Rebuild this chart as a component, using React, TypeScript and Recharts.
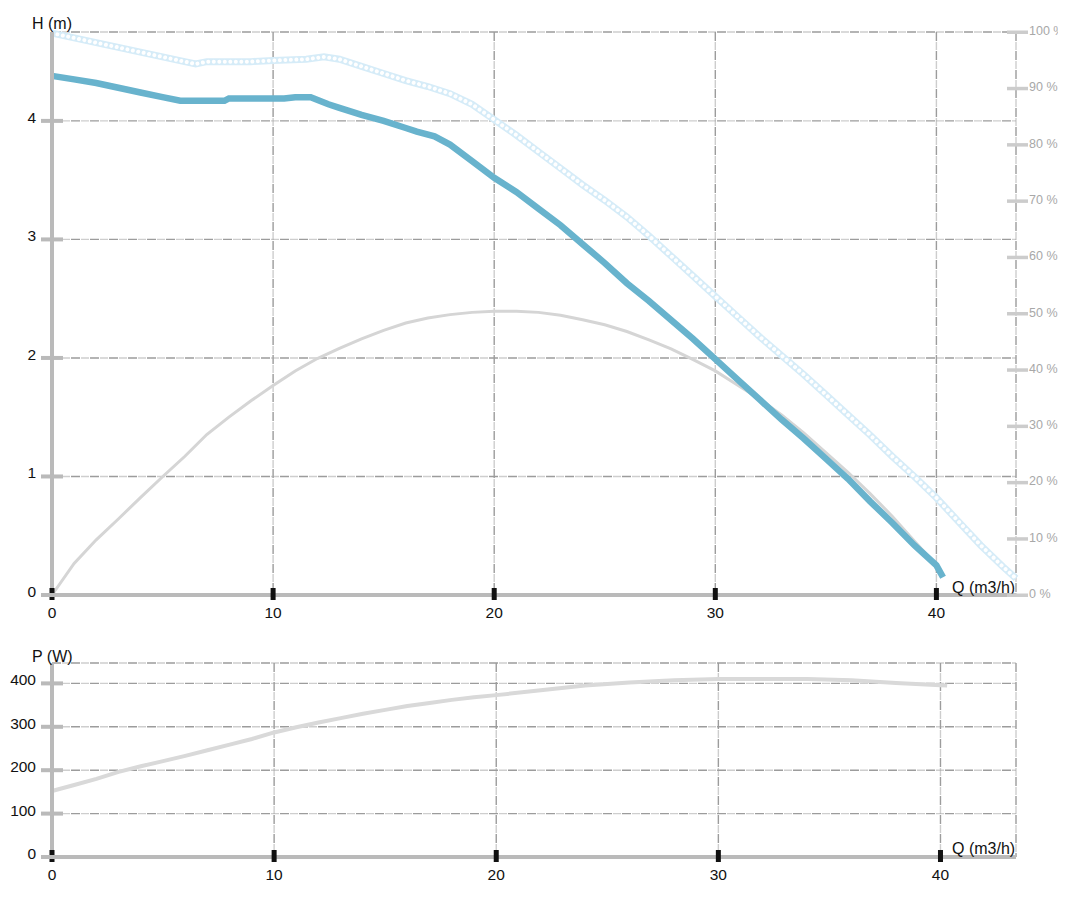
import { LineChart, Line, XAxis, YAxis, CartesianGrid } from 'recharts';

// Q (m3/h) ticks and axis ticks
const qTicks = [0, 10, 20, 30, 40];
const hTicks = [0, 1, 2, 3, 4];
const effTicks = [0, 10, 20, 30, 40, 50, 60, 70, 80, 90, 100];
const pTicks = [0, 100, 200, 300, 400];

// pump curve H(Q)
const pumpQ = [0, 1, 2, 3, 4, 5, 5.8, 7, 7.8, 8, 10, 10.5, 11, 11.7, 12.5, 13, 14, 15, 16, 16.5, 17.3, 18, 19, 20, 21, 22, 23, 24, 25, 26, 27, 28, 29, 30, 31, 32, 33, 34, 35, 36, 37, 38, 39, 40, 40.3];
const pumpH = [4.38, 4.35, 4.32, 4.28, 4.24, 4.2, 4.17, 4.17, 4.17, 4.19, 4.19, 4.19, 4.2, 4.2, 4.14, 4.11, 4.05, 4.0, 3.94, 3.91, 3.87, 3.8, 3.66, 3.52, 3.4, 3.26, 3.12, 2.96, 2.8, 2.63, 2.48, 2.32, 2.16, 1.99, 1.82, 1.65, 1.48, 1.32, 1.15, 0.98, 0.79, 0.61, 0.42, 0.25, 0.15];

// max curve H(Q) (dotted)
const maxQ = [0, 1, 2, 3, 4, 5, 6, 6.5, 7, 9, 10, 11.5, 12.3, 13, 14, 15, 16, 17, 18, 19, 20, 21, 22, 23, 24, 25, 26, 27, 28, 29, 30, 31, 32, 33, 34, 35, 36, 37, 38, 39, 40, 41, 42, 43, 43.6];
const maxH = [4.74, 4.7, 4.66, 4.62, 4.58, 4.54, 4.5, 4.48, 4.5, 4.5, 4.51, 4.52, 4.54, 4.52, 4.46, 4.4, 4.34, 4.29, 4.23, 4.14, 4.01, 3.88, 3.74, 3.6, 3.46, 3.33, 3.19, 3.03, 2.86, 2.69, 2.52, 2.35, 2.18, 2.02, 1.86, 1.69, 1.52, 1.35, 1.17, 1.0, 0.82, 0.62, 0.42, 0.24, 0.14];

// efficiency (%)
const effQ = [0, 1, 2, 3, 4, 5, 6, 7, 8, 9, 10, 11, 12, 13, 14, 15, 16, 17, 18, 19, 20, 21, 22, 23, 24, 25, 26, 27, 28, 29, 30, 31, 32, 33, 34, 35, 36, 37, 38, 39, 40];
const effPct = [0, 5.6, 9.8, 13.5, 17.3, 21, 24.6, 28.5, 31.6, 34.5, 37.2, 39.8, 42, 43.8, 45.5, 47, 48.3, 49.2, 49.8, 50.2, 50.4, 50.4, 50.2, 49.7, 48.9, 48, 46.8, 45.3, 43.7, 41.8, 39.8, 37.3, 34.8, 32, 28.8, 25.3, 21.8, 18, 14, 9.6, 5.3];

// power P(Q) (W)
const powerQ = [0, 1, 2, 3, 4, 5, 6, 7, 8, 9, 10, 11, 12, 13, 14, 15, 16, 17, 18, 19, 20, 22, 24, 26, 28, 30, 32, 34, 36, 38, 40, 40.3];
const powerW = [152, 166, 180, 196, 209, 221, 233, 246, 259, 272, 287, 299, 310, 320, 330, 339, 348, 355, 362, 368, 373, 384, 395, 402, 407, 410, 410, 410, 407, 401, 396, 395];

const zip = (xs: number[], ys: number[], key: string) => xs.map((q, i) => ({ q, [key]: ys[i] }));

const pumpData = zip(pumpQ, pumpH, 'h');
const maxData = zip(maxQ, maxH, 'h');
const effData = zip(effQ, effPct, 'eff');
const powerData = zip(powerQ, powerW, 'p');

const FONT = '"Liberation Sans", Arial, sans-serif';
const GRID_DASH = '9 1.5 1 1 1 1 1 1 1 1.5';
const AXIS_GRAY = '#bababa';

const XTick = (props: any) => {
  const { x, y, payload } = props;
  return (
    <g>
      <rect x={x - 2.5} y={y - 7} width={5} height={12} fill="#111" />
      <text x={x} y={y + 23} textAnchor="middle" fontSize={15.5} fontFamily={FONT} fill="#111">
        {payload.value}
      </text>
    </g>
  );
};

const LeftTick = (props: any) => {
  const { x, y, payload } = props;
  return (
    <g>
      <rect x={x - 11} y={y - 2} width={22} height={4} fill={AXIS_GRAY} />
      <text x={x - 16} y={y + 2} textAnchor="end" fontSize={15.5} fontFamily={FONT} fill="#111">
        {payload.value}
      </text>
    </g>
  );
};

const RightTick = (props: any) => {
  const { x, y, payload } = props;
  return (
    <g>
      <rect x={x - 9} y={y - 1.5} width={21} height={3.5} fill="#cccccc" />
      <text x={x + 13} y={y + 3} textAnchor="start" fontSize={12.5} fontFamily={FONT} fill="#a8a8a8">
        {payload.value} %
      </text>
    </g>
  );
};

const yTitle = (txt: string, dy: number) => (props: any) => {
  const vb = props.viewBox || {};
  return (
    <text x={(vb.x || 0) + 24} y={(vb.y || 0) + dy} fontSize={16} fontFamily={FONT} fill="#111">
      {txt}
    </text>
  );
};

const qTitle = (dy: number) => (props: any) => {
  const vb = props.viewBox || {};
  return (
    <text x={(vb.x || 0) + 900} y={(vb.y || 0) + dy} fontSize={16} fontFamily={FONT} fill="#111">
      Q (m3/h)
    </text>
  );
};

export default function App() {
  return (
    <div style={{ width: 1050 }}>
      <LineChart width={1050} height={620} margin={{ top: 24, right: 0, bottom: 0, left: 0 }}>
        <CartesianGrid yAxisId="h" stroke="#9c9c9c" strokeWidth={1.4} strokeDasharray={GRID_DASH} />
        <XAxis
          dataKey="q"
          type="number"
          domain={[0, 43.4]}
          ticks={qTicks}
          allowDuplicatedCategory={false}
          height={33}
          tickSize={0}
          tickMargin={0}
          tickLine={false}
          axisLine={{ stroke: AXIS_GRAY, strokeWidth: 4 }}
          tick={<XTick />}
          label={qTitle(-2)}
        />
        <YAxis
          yAxisId="h"
          type="number"
          domain={[0, 4.75]}
          ticks={hTicks}
          width={44}
          tickSize={0}
          tickMargin={0}
          tickLine={false}
          axisLine={{ stroke: AXIS_GRAY, strokeWidth: 4 }}
          tick={<LeftTick />}
          label={yTitle('H (m)', -3)}
        />
        <YAxis
          yAxisId="eff"
          orientation="right"
          type="number"
          domain={[0, 100]}
          ticks={effTicks}
          width={42}
          tickSize={0}
          tickMargin={0}
          tickLine={false}
          axisLine={false}
          tick={<RightTick />}
        />
        <Line yAxisId="h" data={maxData} dataKey="h" type="linear" stroke="#d6ecf8" strokeWidth={7} dot={false} activeDot={false} isAnimationActive={false} />
        <Line yAxisId="h" data={maxData} dataKey="h" type="linear" stroke="#ffffff" strokeWidth={4} strokeDasharray="0.01 5.5" strokeLinecap="round" dot={false} activeDot={false} isAnimationActive={false} />
        <Line yAxisId="eff" data={effData} dataKey="eff" type="linear" stroke="#d5d5d5" strokeWidth={3} dot={false} activeDot={false} isAnimationActive={false} />
        <Line yAxisId="h" data={pumpData} dataKey="h" type="linear" stroke="#68b3cd" strokeWidth={6.5} dot={false} activeDot={false} isAnimationActive={false} />
      </LineChart>
      <LineChart width={1050} height={262} margin={{ top: 35, right: 42, bottom: 0, left: 0 }}>
        <CartesianGrid stroke="#9c9c9c" strokeWidth={1.4} strokeDasharray={GRID_DASH} />
        <XAxis
          dataKey="q"
          type="number"
          domain={[0, 43.4]}
          ticks={qTicks}
          allowDuplicatedCategory={false}
          height={33}
          tickSize={0}
          tickMargin={0}
          tickLine={false}
          axisLine={{ stroke: AXIS_GRAY, strokeWidth: 4 }}
          tick={<XTick />}
          label={qTitle(-3)}
        />
        <YAxis
          type="number"
          domain={[0, 447]}
          ticks={pTicks}
          width={44}
          tickSize={0}
          tickMargin={0}
          tickLine={false}
          axisLine={{ stroke: AXIS_GRAY, strokeWidth: 4 }}
          tick={<LeftTick />}
          label={yTitle('P (W)', -1)}
        />
        <Line data={powerData} dataKey="p" type="linear" stroke="#d9d9d9" strokeWidth={4} dot={false} activeDot={false} isAnimationActive={false} />
      </LineChart>
    </div>
  );
}
